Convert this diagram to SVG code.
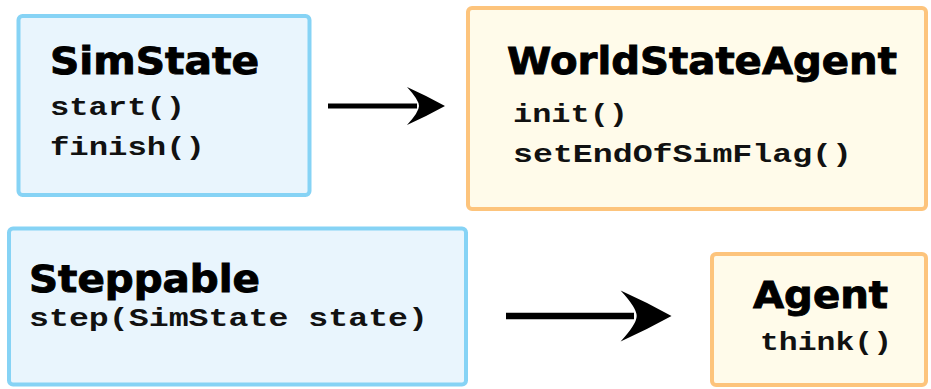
<svg xmlns="http://www.w3.org/2000/svg" width="931" height="389" viewBox="0 0 931 389">
  <style>
    .blue { fill: #e9f5fd; stroke: #86d3f5; stroke-width: 4; }
    .orange { fill: #fffbea; stroke: #fdc47c; stroke-width: 4; }
    .title { font-family: "DejaVu Sans", "Liberation Sans", sans-serif; font-weight: bold; font-size: 37px; fill: #000; stroke: #000; stroke-width: 0.9; }
    .method { font-family: "Liberation Mono", "DejaVu Sans Mono", monospace; font-weight: bold; font-size: 26px; fill: #111; }
    .conn { stroke: #000; fill: none; marker-end: url(#head); }
  </style>
  <defs>
    <marker id="head" viewBox="0 -4 8 8" refX="2" refY="0" markerWidth="8" markerHeight="8" orient="auto" markerUnits="strokeWidth" overflow="visible">
      <path d="M0,-3.8 Q3.8,-2.1 7.6,0 Q3.8,2.1 0,3.8 Q2.4,1.2 2.4,0 Q2.4,-1.2 0,-3.8 Z" fill="#000"/>
    </marker>
  </defs>

  <g id="simstate">
    <rect class="blue" x="18.5" y="16" width="291" height="179" rx="4"/>
    <text class="title" x="50" y="74" textLength="209" lengthAdjust="spacingAndGlyphs">SimState</text>
    <text class="method" x="50" y="115" textLength="135" lengthAdjust="spacingAndGlyphs">start()</text>
    <text class="method" x="50" y="155" textLength="155" lengthAdjust="spacingAndGlyphs">finish()</text>
  </g>

  <g id="worldstateagent">
    <rect class="orange" x="468" y="8" width="458" height="201" rx="4"/>
    <text class="title" x="507" y="74" textLength="390" lengthAdjust="spacingAndGlyphs">WorldStateAgent</text>
    <text class="method" x="513" y="122" textLength="115" lengthAdjust="spacingAndGlyphs">init()</text>
    <text class="method" x="513" y="162" textLength="339" lengthAdjust="spacingAndGlyphs">setEndOfSimFlag()</text>
  </g>

  <g id="steppable">
    <rect class="blue" x="9" y="228.5" width="457" height="156" rx="4"/>
    <text class="title" x="29" y="292" textLength="231" lengthAdjust="spacingAndGlyphs">Steppable</text>
    <text class="method" x="29" y="326" textLength="399" lengthAdjust="spacingAndGlyphs">step(SimState state)</text>
  </g>

  <g id="agent">
    <rect class="orange" x="712" y="254" width="214" height="131" rx="4"/>
    <text class="title" x="753" y="308" textLength="135" lengthAdjust="spacingAndGlyphs">Agent</text>
    <text class="method" x="760" y="350" textLength="132" lengthAdjust="spacingAndGlyphs">think()</text>
  </g>

  <g id="connectors">
    <line class="conn" x1="328" y1="106" x2="417" y2="106" stroke-width="5"/>
    <line class="conn" x1="506" y1="316" x2="634" y2="316" stroke-width="6.7"/>
  </g>
</svg>
